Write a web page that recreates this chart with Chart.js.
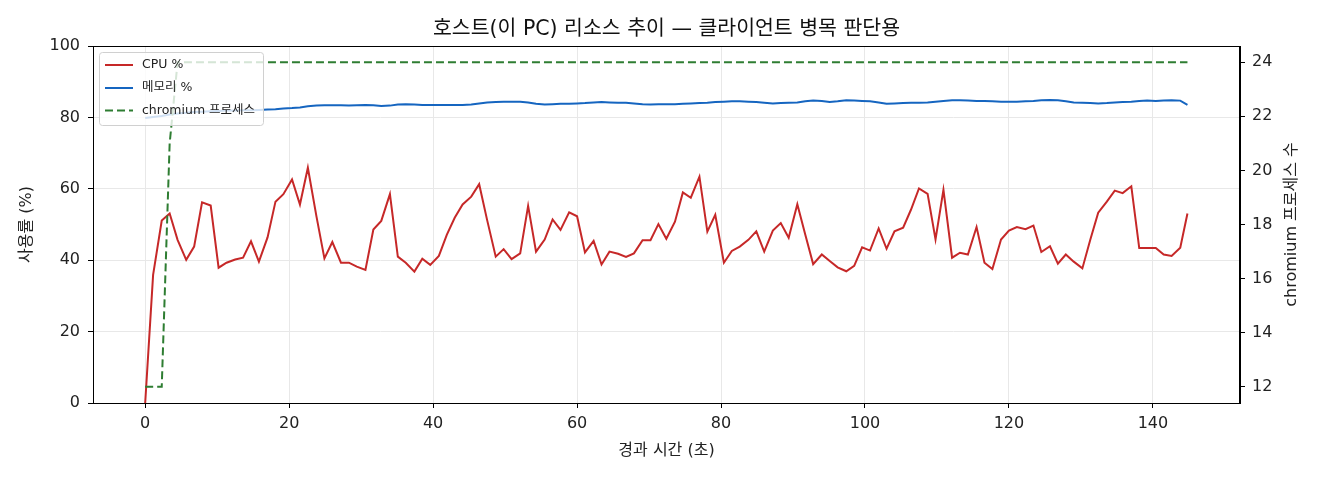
<!DOCTYPE html>
<html lang="ko">
<head>
<meta charset="utf-8">
<title>호스트 리소스 추이</title>
<script src="https://cdn.jsdelivr.net/npm/chart.js@4.4.1/dist/chart.umd.min.js"></script>
<style>
    html, body { margin: 0; padding: 0; background: #ffffff; }
    #wrap { width: 1320px; height: 480px; }
</style>
</head>
<body>
<div id="wrap"><canvas id="resourceChart" width="1320" height="480"></canvas></div>
<script>
// 경과 시간 (초)
const elapsed = [
    0, 1.1, 2.3, 3.4, 4.5, 5.7, 6.8, 7.9, 9.1, 10.2, 11.3, 12.5, 13.6, 14.7, 15.8, 17.0,
    18.1, 19.2, 20.4, 21.5, 22.6, 23.8, 24.9, 26.0, 27.2, 28.3, 29.4, 30.6, 31.7, 32.8, 34.0, 35.1,
    36.2, 37.4, 38.5, 39.6, 40.8, 41.9, 43.0, 44.1, 45.3, 46.4, 47.5, 48.7, 49.8, 50.9, 52.1, 53.2,
    54.3, 55.5, 56.6, 57.7, 58.9, 60.0, 61.1, 62.3, 63.4, 64.5, 65.7, 66.8, 67.9, 69.1, 70.2, 71.3,
    72.4, 73.6, 74.7, 75.8, 77.0, 78.1, 79.2, 80.4, 81.5, 82.6, 83.8, 84.9, 86.0, 87.2, 88.3, 89.4,
    90.6, 91.7, 92.8, 94.0, 95.1, 96.2, 97.4, 98.5, 99.6, 100.7, 101.9, 103.0, 104.1, 105.3, 106.4, 107.5,
    108.7, 109.8, 110.9, 112.1, 113.2, 114.3, 115.5, 116.6, 117.7, 118.9, 120.0, 121.1, 122.3, 123.4, 124.5, 125.7,
    126.8, 127.9, 129.0, 130.2, 131.3, 132.4, 133.6, 134.7, 135.8, 137.0, 138.1, 139.2, 140.4, 141.5, 142.6, 143.8,
    144.8
];

const cpuPct = [
    0, 35.9, 51.1, 53.1, 45.7, 40.1, 43.8, 56.2, 55.3, 37.9, 39.3, 40.2, 40.7, 45.3, 39.6, 46.4,
    56.4, 58.5, 62.6, 55.6, 65.9, 52.2, 40.5, 45.1, 39.3, 39.3, 38.2, 37.3, 48.6, 51.0, 58.5, 41.0,
    39.3, 36.8, 40.4, 38.7, 41.2, 47.1, 51.9, 55.6, 57.8, 61.3, 51.3, 41.0, 43.1, 40.3, 41.9, 55.2,
    42.4, 45.8, 51.4, 48.5, 53.4, 52.3, 42.2, 45.4, 38.8, 42.4, 41.8, 40.9, 41.9, 45.6, 45.6, 50.1,
    46.0, 50.8, 59.0, 57.5, 63.4, 48.0, 52.7, 39.3, 42.6, 43.8, 45.7, 48.1, 42.4, 48.3, 50.4, 46.3,
    55.7, 47.2, 38.9, 41.6, 39.8, 38.0, 36.9, 38.4, 43.6, 42.7, 48.9, 43.2, 48.1, 49.1, 54.2, 60.1,
    58.6, 45.8, 59.7, 40.7, 42.1, 41.6, 49.3, 39.3, 37.5, 45.8, 48.3, 49.3, 48.7, 49.7, 42.3, 43.9,
    39.0, 41.6, 39.6, 37.7, 45.7, 53.3, 56.4, 59.5, 58.8, 60.7, 43.4, 43.4, 43.4, 41.6, 41.2, 43.5,
    53.1
];

const memPct = [
    79.8, 80.1, 80.4, 80.8, 81.1, 81.3, 81.5, 81.6, 81.7, 81.8, 81.9, 81.9, 82.0, 82.0, 82.1, 82.2,
    82.3, 82.5, 82.6, 82.8, 83.1, 83.3, 83.4, 83.4, 83.4, 83.3, 83.4, 83.5, 83.4, 83.2, 83.3, 83.6,
    83.7, 83.6, 83.5, 83.5, 83.5, 83.5, 83.5, 83.5, 83.6, 83.9, 84.2, 84.3, 84.4, 84.4, 84.4, 84.2,
    83.8, 83.6, 83.7, 83.8, 83.8, 83.9, 84.0, 84.2, 84.3, 84.2, 84.1, 84.1, 83.9, 83.7, 83.6, 83.7,
    83.7, 83.7, 83.8, 83.9, 84.0, 84.1, 84.3, 84.4, 84.5, 84.5, 84.4, 84.3, 84.1, 83.9, 84.0, 84.1,
    84.2, 84.5, 84.7, 84.6, 84.3, 84.5, 84.8, 84.7, 84.6, 84.5, 84.2, 83.8, 83.9, 84.0, 84.1, 84.1,
    84.2, 84.4, 84.6, 84.8, 84.8, 84.7, 84.6, 84.6, 84.5, 84.4, 84.4, 84.4, 84.5, 84.6, 84.8, 84.9,
    84.8, 84.5, 84.2, 84.1, 84.0, 83.9, 84.0, 84.2, 84.3, 84.4, 84.6, 84.7, 84.6, 84.7, 84.8, 84.7,
    83.5
];

const chromiumProcs = [
    12, 12, 12, 21, 24, 24, 24, 24, 24, 24, 24, 24, 24, 24, 24, 24,
    24, 24, 24, 24, 24, 24, 24, 24, 24, 24, 24, 24, 24, 24, 24, 24,
    24, 24, 24, 24, 24, 24, 24, 24, 24, 24, 24, 24, 24, 24, 24, 24,
    24, 24, 24, 24, 24, 24, 24, 24, 24, 24, 24, 24, 24, 24, 24, 24,
    24, 24, 24, 24, 24, 24, 24, 24, 24, 24, 24, 24, 24, 24, 24, 24,
    24, 24, 24, 24, 24, 24, 24, 24, 24, 24, 24, 24, 24, 24, 24, 24,
    24, 24, 24, 24, 24, 24, 24, 24, 24, 24, 24, 24, 24, 24, 24, 24,
    24, 24, 24, 24, 24, 24, 24, 24, 24, 24, 24, 24, 24, 24, 24, 24,
    24
];

const xTicks = [0, 20, 40, 60, 80, 100, 120, 140];
const pctTicks = [0, 20, 40, 60, 80, 100];
const procTicks = [12, 14, 16, 18, 20, 22, 24];

const FONT = '"DejaVu Sans", "Noto Sans CJK KR", sans-serif';
const RED = '#c62828';
const BLUE = '#1565c0';
const GREEN = '#2e7d32';

function pairs(ys) {
    return elapsed.map((t, i) => ({ x: t, y: ys[i] }));
}

// 제목, 오른쪽 축 제목, 범례, 테두리
const decorPlugin = {
    id: 'decor',
    afterDraw(chart) {
        const ctx = chart.ctx;
        const area = chart.chartArea;
        ctx.save();

        ctx.strokeStyle = '#000';
        ctx.lineWidth = 1;
        ctx.strokeRect(area.left + 0.5, area.top + 0.5, area.right - area.left - 1, area.bottom - area.top);

        ctx.fillStyle = '#111';
        ctx.font = '20.5px ' + FONT;
        ctx.textAlign = 'center';
        ctx.textBaseline = 'middle';
        ctx.fillText('호스트(이 PC) 리소스 추이 — 클라이언트 병목 판단용', (area.left + area.right) / 2, 30);

        ctx.save();
        ctx.translate(1292, (area.top + area.bottom) / 2);
        ctx.rotate(-Math.PI / 2);
        ctx.font = '16px ' + FONT;
        ctx.fillStyle = '#222';
        ctx.fillText('chromium 프로세스 수', 0, 0);
        ctx.restore();

        // legend
        const bx = 99, by = 52, bw = 164, bh = 73;
        ctx.beginPath();
        ctx.roundRect(bx + 0.5, by + 0.5, bw, bh, 3);
        ctx.fillStyle = 'rgba(255,255,255,0.8)';
        ctx.fill();
        ctx.strokeStyle = '#d0d0d0';
        ctx.stroke();

        const items = [
            { label: 'CPU %', color: RED, dash: [], y: 65 },
            { label: '메모리 %', color: BLUE, dash: [], y: 88 },
            { label: 'chromium 프로세스', color: GREEN, dash: [8, 4], y: 110.5 }
        ];
        items.forEach(item => {
            ctx.beginPath();
            ctx.setLineDash(item.dash);
            ctx.strokeStyle = item.color;
            ctx.lineWidth = 2;
            ctx.moveTo(105, item.y);
            ctx.lineTo(133, item.y);
            ctx.stroke();
            ctx.setLineDash([]);
            ctx.fillStyle = '#222';
            ctx.font = '12.5px ' + FONT;
            ctx.textAlign = 'left';
            ctx.fillText(item.label, 142, item.y);
        });
        ctx.restore();
    }
};

const ctx = document.getElementById('resourceChart').getContext('2d');
new Chart(ctx, {
    type: 'line',
    data: {
        datasets: [
            {
                label: 'CPU %',
                data: pairs(cpuPct),
                yAxisID: 'y',
                borderColor: RED,
                borderWidth: 2,
                pointRadius: 0,
                tension: 0,
                order: 3
            },
            {
                label: '메모리 %',
                data: pairs(memPct),
                yAxisID: 'y',
                borderColor: BLUE,
                borderWidth: 2,
                pointRadius: 0,
                tension: 0,
                order: 2
            },
            {
                label: 'chromium 프로세스',
                data: pairs(chromiumProcs),
                yAxisID: 'y2',
                borderColor: GREEN,
                borderWidth: 2,
                borderDash: [8, 4],
                pointRadius: 0,
                tension: 0,
                order: 1
            }
        ]
    },
    options: {
        responsive: false,
        animation: false,
        devicePixelRatio: 1,
        layout: { padding: { top: 46, left: 0, right: 0, bottom: 0 } },
        plugins: {
            legend: { display: false },
            title: { display: false },
            tooltip: { enabled: false }
        },
        scales: {
            x: {
                type: 'linear',
                min: -7.25,
                max: 152.1,
                afterBuildTicks: scale => { scale.ticks = xTicks.map(v => ({ value: v })); },
                afterFit: scale => { scale.height = 77; },
                grid: { color: '#e8e8e8', tickColor: '#000', tickLength: 5 },
                border: { display: true, color: '#000' },
                ticks: { color: '#222', font: { family: FONT, size: 16 }, padding: 6, maxRotation: 0 },
                title: {
                    display: true,
                    text: '경과 시간 (초)',
                    color: '#222',
                    font: { family: FONT, size: 16 },
                    padding: { top: 2, bottom: 20 }
                }
            },
            y: {
                position: 'left',
                min: 0,
                max: 100,
                afterBuildTicks: scale => { scale.ticks = pctTicks.map(v => ({ value: v })); },
                afterFit: scale => { scale.width = 93; },
                grid: { color: '#e8e8e8', tickColor: '#000', tickLength: 5 },
                border: { display: true, color: '#000' },
                ticks: { color: '#222', font: { family: FONT, size: 16 }, padding: 8 },
                title: {
                    display: true,
                    text: '사용률 (%)',
                    color: '#222',
                    font: { family: FONT, size: 16 },
                    padding: { top: 17, bottom: 0 }
                }
            },
            y2: {
                position: 'right',
                min: 11.4,
                max: 24.6,
                afterBuildTicks: scale => { scale.ticks = procTicks.map(v => ({ value: v })); },
                afterFit: scale => { scale.width = 80; },
                grid: { drawOnChartArea: false, tickColor: '#000', tickLength: 5 },
                border: { display: true, color: '#000' },
                ticks: { color: '#222', font: { family: FONT, size: 16 }, padding: 7 }
            }
        }
    },
    plugins: [decorPlugin]
});
</script>
</body>
</html>
